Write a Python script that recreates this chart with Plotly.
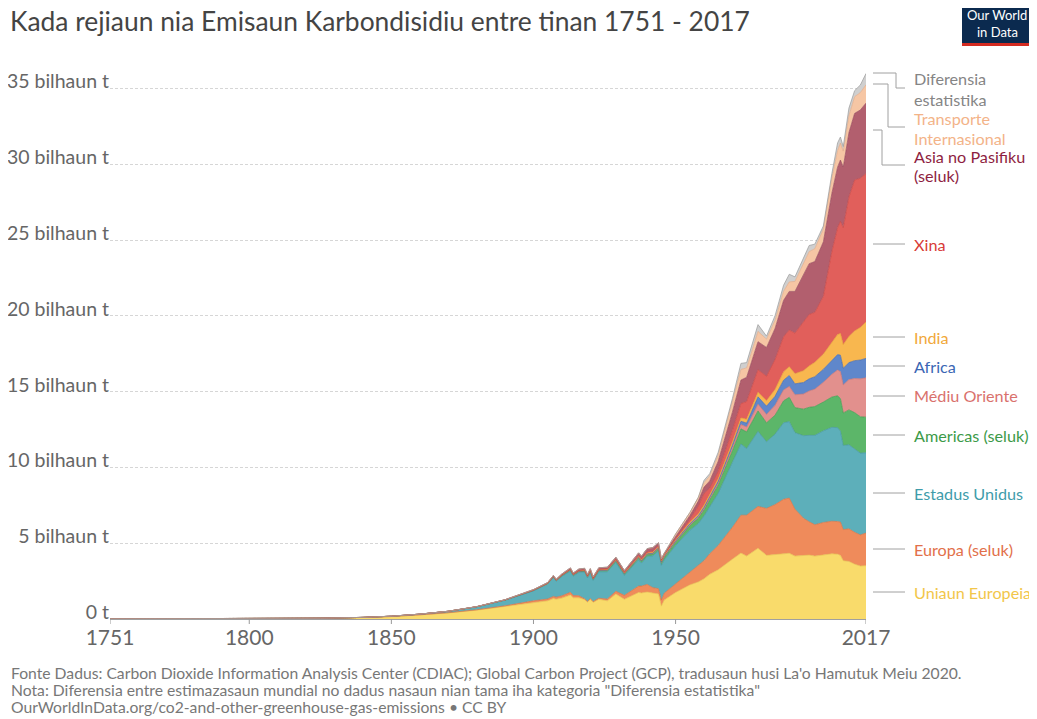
import plotly.graph_objects as go

# ---------------- data (billion tonnes CO2) ----------------
years = [1751, 1775, 1800, 1825, 1840, 1850, 1860, 1870, 1880, 1890,
         1900, 1905, 1907, 1908, 1910, 1913, 1914, 1916, 1918, 1919,
         1920, 1921, 1923, 1926, 1929, 1932, 1937, 1938, 1940, 1942,
         1944, 1945, 1946, 1950, 1955, 1958, 1960, 1962, 1965, 1970,
         1973, 1975, 1979, 1982, 1985, 1988, 1990, 1992, 1995, 1997,
         1999, 2002, 2005, 2007, 2008, 2009, 2011, 2013, 2015, 2017]

eu = [0.0094, 0.014, 0.027, 0.05, 0.10, 0.16, 0.27, 0.40, 0.58, 0.82,
      1.10, 1.20, 1.35, 1.30, 1.38, 1.58, 1.40, 1.40, 1.28, 1.12,
      1.30, 1.10, 1.30, 1.20, 1.65, 1.30, 1.75, 1.72, 1.78, 1.72,
      1.65, 0.85, 1.25, 1.75, 2.25, 2.45, 2.65, 2.95, 3.25, 3.95,
      4.35, 4.15, 4.67, 4.20, 4.25, 4.35, 4.34, 4.15, 4.20, 4.22,
      4.15, 4.25, 4.30, 4.28, 4.20, 3.85, 3.80, 3.62, 3.50, 3.52]

europe_other = [0, 0, 0.0005, 0.001, 0.002, 0.004, 0.008, 0.015, 0.03, 0.05,
                0.10, 0.12, 0.14, 0.14, 0.15, 0.18, 0.15, 0.13, 0.05, 0.04,
                0.05, 0.05, 0.07, 0.12, 0.18, 0.26, 0.42, 0.45, 0.50, 0.35,
                0.35, 0.40, 0.45, 0.55, 0.85, 1.05, 1.20, 1.35, 1.60, 2.10,
                2.50, 2.70, 2.76, 3.10, 3.30, 3.55, 3.64, 3.10, 2.45, 2.20,
                2.07, 2.12, 2.15, 2.15, 2.20, 2.05, 2.15, 2.10, 2.05, 2.15]

usa = [0, 0, 0.0003, 0.001, 0.005, 0.02, 0.04, 0.09, 0.19, 0.37,
       0.66, 0.98, 1.25, 1.05, 1.28, 1.40, 1.28, 1.55, 1.78, 1.55,
       1.72, 1.40, 1.75, 1.80, 1.90, 1.32, 1.75, 1.52, 1.85, 2.10,
       2.50, 2.30, 2.20, 2.55, 2.75, 2.80, 2.95, 3.10, 3.45, 4.30,
       4.70, 4.40, 4.95, 4.40, 4.65, 5.05, 5.05, 5.05, 5.45, 5.70,
       5.90, 6.05, 6.20, 6.20, 6.00, 5.55, 5.55, 5.50, 5.40, 5.30]

americas_other = [0, 0, 0, 0, 0, 0.001, 0.002, 0.004, 0.008, 0.015,
                  0.03, 0.04, 0.05, 0.05, 0.06, 0.08, 0.07, 0.07, 0.07, 0.07,
                  0.08, 0.08, 0.09, 0.10, 0.12, 0.10, 0.13, 0.13, 0.14, 0.14,
                  0.16, 0.17, 0.18, 0.22, 0.30, 0.36, 0.40, 0.45, 0.55, 0.75,
                  1.00, 1.10, 1.35, 1.25, 1.25, 1.45, 1.60, 1.65, 1.75, 1.85,
                  1.90, 1.90, 2.00, 2.10, 2.15, 2.15, 2.30, 2.40, 2.40, 2.35]

middle_east = [0, 0, 0, 0, 0, 0, 0, 0, 0, 0,
               0, 0, 0, 0.0005, 0.001, 0.001, 0.001, 0.001, 0.001, 0.001,
               0.002, 0.002, 0.002, 0.003, 0.005, 0.005, 0.008, 0.009, 0.01, 0.01,
               0.012, 0.013, 0.015, 0.03, 0.05, 0.07, 0.08, 0.09, 0.12, 0.20,
               0.28, 0.32, 0.45, 0.55, 0.65, 0.72, 0.72, 0.85, 1.00, 1.08,
               1.15, 1.30, 1.50, 1.70, 1.78, 1.85, 2.00, 2.25, 2.50, 2.60]

africa = [0, 0, 0, 0, 0, 0, 0, 0, 0.001, 0.002,
          0.005, 0.006, 0.007, 0.007, 0.01, 0.012, 0.012, 0.013, 0.014, 0.014,
          0.015, 0.014, 0.016, 0.018, 0.02, 0.018, 0.025, 0.026, 0.03, 0.032,
          0.035, 0.035, 0.04, 0.06, 0.08, 0.09, 0.10, 0.11, 0.13, 0.18,
          0.22, 0.26, 0.48, 0.55, 0.60, 0.64, 0.72, 0.72, 0.76, 0.80,
          0.82, 0.86, 0.95, 1.02, 1.08, 1.10, 1.12, 1.18, 1.24, 1.28]

india = [0, 0, 0, 0, 0, 0, 0, 0.001, 0.002, 0.005,
         0.01, 0.013, 0.015, 0.016, 0.018, 0.02, 0.021, 0.023, 0.025, 0.025,
         0.026, 0.025, 0.027, 0.03, 0.035, 0.032, 0.04, 0.042, 0.046, 0.05,
         0.055, 0.055, 0.058, 0.07, 0.09, 0.11, 0.12, 0.14, 0.16, 0.20,
         0.22, 0.25, 0.30, 0.36, 0.45, 0.55, 0.58, 0.67, 0.78, 0.85,
         0.95, 1.00, 1.15, 1.32, 1.43, 1.56, 1.73, 1.96, 2.15, 2.40]

china = [0, 0, 0, 0, 0, 0, 0, 0, 0.001, 0.003,
         0.008, 0.01, 0.012, 0.013, 0.015, 0.02, 0.02, 0.022, 0.025, 0.025,
         0.028, 0.026, 0.03, 0.035, 0.04, 0.045, 0.06, 0.06, 0.07, 0.08,
         0.07, 0.05, 0.06, 0.08, 0.20, 0.52, 0.78, 0.44, 0.50, 0.77,
         0.95, 1.17, 1.49, 1.61, 1.97, 2.32, 2.42, 2.68, 3.26, 3.40,
         3.30, 3.81, 6.00, 7.05, 7.40, 7.72, 9.20, 9.96, 9.85, 9.80]

asia_pacific_other = [0, 0, 0, 0, 0, 0, 0.001, 0.002, 0.005, 0.01,
                      0.03, 0.04, 0.05, 0.05, 0.06, 0.08, 0.08, 0.09, 0.10, 0.10,
                      0.10, 0.09, 0.10, 0.11, 0.13, 0.12, 0.18, 0.19, 0.22, 0.23,
                      0.20, 0.10, 0.08, 0.15, 0.25, 0.33, 0.42, 0.48, 0.65, 1.20,
                      1.55, 1.60, 1.85, 1.90, 2.05, 2.40, 2.55, 2.75, 3.10, 3.35,
                      3.35, 3.60, 3.85, 4.00, 4.05, 4.00, 4.25, 4.40, 4.50, 4.65]

international_transport = [0, 0, 0, 0, 0, 0, 0, 0, 0, 0,
                           0, 0, 0, 0, 0, 0, 0, 0, 0, 0,
                           0, 0, 0, 0, 0, 0, 0, 0, 0, 0,
                           0, 0, 0, 0.15, 0.20, 0.25, 0.30, 0.33, 0.40, 0.60,
                           0.70, 0.62, 0.68, 0.55, 0.55, 0.60, 0.63, 0.66, 0.72, 0.80,
                           0.85, 0.85, 1.00, 1.10, 1.12, 1.05, 1.12, 1.10, 1.15, 1.20]

statistical_difference = [0, 0, 0, 0, 0, 0, 0, 0, 0, 0,
                          0, 0, 0, 0, 0, 0, 0, 0, 0, 0,
                          0, 0, 0, 0, 0, 0, 0, 0, 0, 0,
                          0, 0, 0, 0, 0, 0, 0.15, 0.15, 0.20, 0.30,
                          0.40, 0.35, 0.45, 0.20, 0.30, 0.40, 0.50, 0.30, 0.35, 0.40,
                          0.30, 0.20, 0.30, 0.50, 0.40, 0.30, 0.50, 0.40, 0.50, 0.75]

series_names = ["Uniaun Europeia", "Europa (seluk)", "Estadus Unidus", "Americas (seluk)",
                "Médiu Oriente", "Africa", "India", "Xina", "Asia no Pasifiku (seluk)",
                "Transporte Internasional", "Diferensia estatistika"]
series_values = [eu, europe_other, usa, americas_other, middle_east, africa, india,
                 china, asia_pacific_other, international_transport, statistical_difference]

y_tickvals = [0, 5, 10, 15, 20, 25, 30, 35]
y_ticktext = ["0 t", "5 bilhaun t", "10 bilhaun t", "15 bilhaun t", "20 bilhaun t",
              "25 bilhaun t", "30 bilhaun t", "35 bilhaun t"]
x_tickvals = [1751, 1800, 1850, 1900, 1950, 2017]

# ---------------- styles ----------------
fills = ["#F9DB6B", "#EF8B5B", "#5DAFBA", "#5CB669", "#E2908D", "#5F87CB",
         "#F8B74F", "#E15F5B", "#B25F6E", "#F6C6A4", "#CFCFCF"]
lines = ["#E6C24C", "#D9703F", "#3F949F", "#3E9A4C", "#CC716E", "#4067AE",
         "#E59E2E", "#C84440", "#96465A", "#E3A985", "#9A9A9A"]
label_colors = ["#F2C64A", "#E2704A", "#3F9CAA", "#3C9A48", "#D9716D", "#3A66B4",
                "#F1A83A", "#D83B37", "#8E1E41", "#F3B388", "#858585"]

FONT = "Lato"
PAGE_W, PAGE_H = 1037, 719
OFF = 8  # the page body margin shifts the figure by this many pixels
W, H = PAGE_W - OFF, PAGE_H - OFF
# plot area in page pixels: x 110..866, y 72..619
PL, PR, PT, PB = 110, 866, 72, 619
ML, MR, MT, MB = PL - OFF, PAGE_W - PR, PT - OFF, PAGE_H - PB


def px_x(x):
    return (x - PL) / (PR - PL)


def px_y(y):
    return (PB - y) / (PB - PT)


fig = go.Figure()
for name, vals, fc, lc in zip(series_names, series_values, fills, lines):
    fig.add_trace(go.Scatter(
        x=years, y=vals, name=name, mode="lines", stackgroup="one",
        line=dict(width=0.7, color=lc), fillcolor=fc, hoverinfo="skip"))

annotations = []
shapes = []

# right-hand labels: (connector y, [(text line, line centre y), ...])
label_pos = {
    "Diferensia estatistika": (88, [("Diferensia", 78), ("estatistika", 99)]),
    "Transporte Internasional": (127, [("Transporte", 118), ("Internasional", 138)]),
    "Asia no Pasifiku (seluk)": (165, [("Asia no Pasifiku", 156), ("(seluk)", 176)]),
    "Xina": (244, [("Xina", 244)]),
    "India": (337, [("India", 337)]),
    "Africa": (366, [("Africa", 366)]),
    "Médiu Oriente": (396, [("Médiu Oriente", 396)]),
    "Americas (seluk)": (435, [("Americas (seluk)", 435)]),
    "Estadus Unidus": (493, [("Estadus Unidus", 493)]),
    "Europa (seluk)": (549, [("Europa (seluk)", 549)]),
    "Uniaun Europeia": (592, [("Uniaun Europeia", 592)]),
}
bent = {
    "Diferensia estatistika": (73, 896),
    "Transporte Internasional": (84, 888),
    "Asia no Pasifiku (seluk)": (130, 882),
}
for name, col in zip(series_names, label_colors):
    yc, parts = label_pos[name]
    for txt, ty in parts:
        annotations.append(dict(
            x=px_x(912), y=px_y(ty), xref="paper", yref="paper", text=txt,
            showarrow=False, xanchor="left", yanchor="middle", align="left",
            font=dict(family=FONT, size=16.2, color=col)))
    if name in bent:
        ys, xb = bent[name]
        path = (f"M {px_x(873)},{px_y(ys)} L {px_x(xb)},{px_y(ys)} "
                f"L {px_x(xb)},{px_y(yc)} L {px_x(905)},{px_y(yc)}")
        shapes.append(dict(type="path", path=path, xref="paper", yref="paper",
                           line=dict(color="#A0A0A0", width=1)))
    else:
        shapes.append(dict(type="line", x0=px_x(873), x1=px_x(905),
                           y0=px_y(yc), y1=px_y(yc), xref="paper", yref="paper",
                           line=dict(color="#A0A0A0", width=1)))

# x-axis tick marks (drawn below the axis line, on the x scale)
for xv in x_tickvals:
    shapes.append(dict(type="line", xref="x", yref="paper", x0=xv, x1=xv,
                       y0=0, y1=px_y(PB + 5), line=dict(color="#999999", width=1)))

# logo
shapes.append(dict(type="rect", xref="paper", yref="paper",
                   x0=px_x(962), x1=px_x(1032), y0=px_y(43), y1=px_y(4),
                   fillcolor="#0B2A4F", line=dict(width=0)))
shapes.append(dict(type="rect", xref="paper", yref="paper",
                   x0=px_x(962), x1=px_x(1032), y0=px_y(46), y1=px_y(43),
                   fillcolor="#D42B21", line=dict(width=0)))
annotations.append(dict(x=px_x(997), y=px_y(15), xref="paper", yref="paper",
                        text="Our World", showarrow=False, xanchor="center",
                        yanchor="middle", font=dict(family=FONT, size=13, color="white")))
annotations.append(dict(x=px_x(997), y=px_y(32), xref="paper", yref="paper",
                        text="in Data", showarrow=False, xanchor="center",
                        yanchor="middle", font=dict(family=FONT, size=13, color="white")))

# footer
footer = [
    "Fonte Dadus: Carbon Dioxide Information Analysis Center (CDIAC); Global Carbon Project (GCP), tradusaun husi La'o Hamutuk Meiu 2020.",
    'Nota: Diferensia entre estimazasaun mundial no dadus nasaun nian tama iha kategoria "Diferensia estatistika"',
    "OurWorldInData.org/co2-and-other-greenhouse-gas-emissions • CC BY",
]
for i, t in enumerate(footer):
    annotations.append(dict(x=px_x(9), y=px_y(673 + 17 * i), xref="paper", yref="paper",
                            text=t, showarrow=False, xanchor="left", yanchor="middle",
                            font=dict(family=FONT, size=15.7, color="#777777")))

fig.update_layout(
    width=W, height=H,
    margin=dict(l=ML, r=MR, t=MT, b=MB, autoexpand=False),
    paper_bgcolor="white", plot_bgcolor="white",
    showlegend=False,
    font=dict(family=FONT, color="#666666"),
    title=dict(text="Kada rejiaun nia Emisaun Karbondisidiu entre tinan 1751 - 2017",
               x=(10 - OFF) / W, xanchor="left", y=1 - (22 - OFF) / H, yanchor="middle",
               font=dict(family=FONT, size=26.4, color="#444444")),
    xaxis=dict(range=[1751, 2017], tickvals=x_tickvals, ticks="", automargin=False,
               showgrid=False, showline=True, linecolor="#A0A0A0",
               zeroline=False, tickfont=dict(family=FONT, size=21, color="#666666")),
    yaxis=dict(range=[0, 36.1], tickvals=y_tickvals, ticktext=y_ticktext, automargin=False,
               showgrid=True, gridcolor="#D6D6D6", griddash="3px,2px", gridwidth=1,
               zeroline=False, showline=False, ticks="",
               ticklabelshift=-7, ticklabelstandoff=0,
               tickfont=dict(family=FONT, size=19.5, color="#666666")),
    annotations=annotations,
    shapes=shapes,
)

fig.write_html("out.html")
